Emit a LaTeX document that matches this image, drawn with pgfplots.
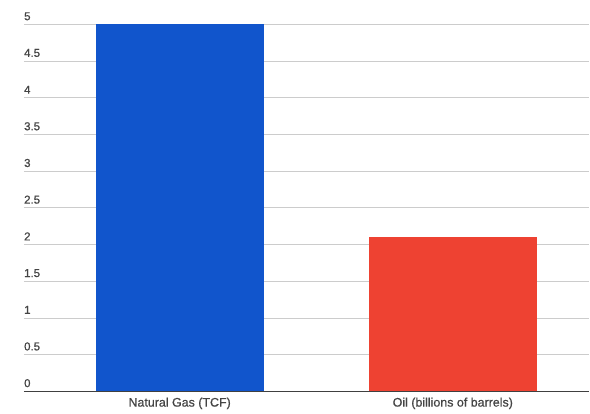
\documentclass[border=0pt]{standalone}
\usepackage{fontspec}
\setmainfont{Liberation Sans}
\newfontfamily\labelfont{Liberation Sans}[RawFeature={embolden=0.7}]
\usepackage{pgfplots}
\pgfplotsset{compat=1.18}
\definecolor{gasblue}{HTML}{1155CC}
\definecolor{oilred}{HTML}{EE4232}
\definecolor{gridgray}{HTML}{CCCCCC}
\definecolor{labelgray}{HTML}{444444}
\begin{document}
\begin{tikzpicture}[x=1bp,y=1bp]
\begin{axis}[
  at={(0,0)}, anchor=south west,
  scale only axis,
  width=566bp, height=367.5bp,
  xmin=-0.570, xmax=1.499,
  ymin=0, ymax=5,
  ytick={0,0.5,...,5},
  yticklabels={0,0.5,1,1.5,2,2.5,3,3.5,4,4.5,5},
  xtick={0,1},
  xticklabels={Natural Gas (TCF),Oil (billions of barrels)},
  axis line style={draw=none},
  major tick length=0pt,
  ymajorgrids,
  grid style={gridgray, line width=0.9bp},
  yticklabel style={anchor=south west, xshift=0bp, yshift=4bp, font=\labelfont\fontsize{11.5}{13}\selectfont, text=labelgray, inner sep=0pt},
  xticklabel style={anchor=north, font=\labelfont\fontsize{12.5}{14}\selectfont, text=labelgray, inner sep=0pt, yshift=-6bp},
  /pgf/number format/assume math mode=true,
  clip=false,
]
\addplot[ybar, bar width=168bp, fill=gasblue, draw=none] coordinates {(0,5.0)};
\addplot[ybar, bar width=168bp, fill=oilred, draw=none] coordinates {(1,2.1)};
\draw[draw=black!75, line width=1.8bp] (axis cs:-0.570,0) -- (axis cs:1.499,0);
\end{axis}
\useasboundingbox (-24bp,-22bp) rectangle (566bp,392bp);
\end{tikzpicture}
\end{document}
